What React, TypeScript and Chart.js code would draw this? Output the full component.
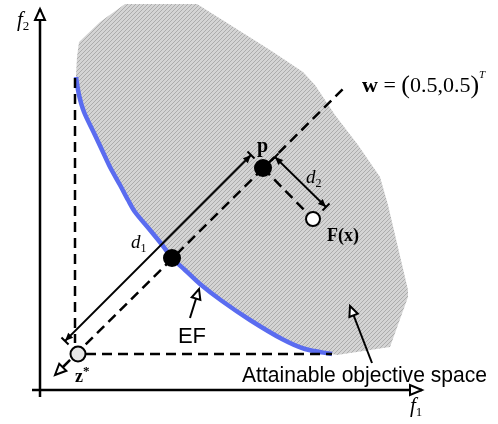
import { useEffect, useRef } from "react";
import { Chart, registerables } from "chart.js";

Chart.register(...registerables);

const W = 498;
const H = 424;

// Boundary of the attainable objective space (f1 to the right, f2 measured downward in picture units)
const regionF1 = [76, 77, 79, 100, 125, 197, 270, 303, 315, 335, 358, 380, 388, 408, 408, 390, 337, 332];
const regionF2 = [75, 57, 42, 22, 4, 4, 50, 72, 85, 115, 145, 177, 205, 290, 297, 347, 355, 354];

// Efficient front (EF)
const efF1 = [76, 79, 84, 94, 102, 110, 120, 128, 135, 150, 163, 172, 185, 200, 222, 250, 282, 305, 332];
const efF2 = [77, 95, 112, 133, 150, 167, 185, 200, 212, 230, 246, 258, 270, 284, 301, 320, 339, 349, 354];

// Points
const idealPoint = [78, 354]; // z*
const solutionPoint = [313, 219]; // F(x)
const projectedF1 = [172, 263]; // EF point, p
const projectedF2 = [258, 168];

// Axes
const f1Axis = [[32, 390], [422, 390]];
const f2Axis = [[40, 397], [40, 9]];

// Dashed construction lines
const dashedSegments = [
  [[75, 78], [75, 343]],
  [[86, 354], [332, 354]],
  [[63, 367], [345, 87]],
  [[263, 168], [313, 219]],
];

// Distance (dimension) lines
const d1Line = [[65, 341], [251, 155]];
const d2Line = [[275, 157], [326, 207]];

// Pointer arrows
const efPointer = [[190, 318], [199, 289]];
const spacePointer = [[372, 363], [350, 306]];
const wArrowTip = [[63, 367], [55, 375]];

const FONT_SERIF = "'Liberation Serif', 'DejaVu Serif', serif";
const FONT_SANS = "'Liberation Sans', Arial, sans-serif";

const toPts = (pairs: number[][]) => pairs.map(([x, y]) => ({ x, y }));

function makeHatch(ctx: CanvasRenderingContext2D): CanvasPattern | string {
  const c = document.createElement("canvas");
  c.width = 4;
  c.height = 4;
  const g = c.getContext("2d");
  if (!g) return "#c6c6c6";
  g.fillStyle = "#d4d4d4";
  g.fillRect(0, 0, 4, 4);
  g.strokeStyle = "#acacac";
  g.lineWidth = 1;
  g.beginPath();
  g.moveTo(-1, 5);
  g.lineTo(5, -1);
  g.moveTo(-1, 1);
  g.lineTo(1, -1);
  g.moveTo(3, 5);
  g.lineTo(5, 3);
  g.stroke();
  return ctx.createPattern(c, "repeat") || "#c6c6c6";
}

const overlayPlugin = {
  id: "overlay",
  afterDatasetsDraw(chart: any) {
    const ctx: CanvasRenderingContext2D = chart.ctx;
    const xs = chart.scales.x;
    const ys = chart.scales.y;
    const P = (p: number[]) => [xs.getPixelForValue(p[0]), ys.getPixelForValue(p[1])];

    const head = (fromV: number[], tipV: number[], len: number, half: number, hollow: boolean) => {
      const from = P(fromV);
      const tip = P(tipV);
      const dx = tip[0] - from[0];
      const dy = tip[1] - from[1];
      const d = Math.hypot(dx, dy) || 1;
      const ux = dx / d;
      const uy = dy / d;
      const bx = tip[0] - ux * len;
      const by = tip[1] - uy * len;
      ctx.beginPath();
      ctx.moveTo(tip[0], tip[1]);
      ctx.lineTo(bx - uy * half, by + ux * half);
      ctx.lineTo(bx + uy * half, by - ux * half);
      ctx.closePath();
      if (hollow) {
        ctx.fillStyle = "#fff";
        ctx.fill();
        ctx.lineWidth = 2;
        ctx.strokeStyle = "#000";
        ctx.lineJoin = "miter";
        ctx.stroke();
      } else {
        ctx.fillStyle = "#000";
        ctx.fill();
      }
    };

    const tick = (atV: number[], dirV: number[], half: number) => {
      const a = P(atV);
      const b = P(dirV);
      const dx = b[0] - a[0];
      const dy = b[1] - a[1];
      const d = Math.hypot(dx, dy) || 1;
      const nx = -dy / d;
      const ny = dx / d;
      ctx.beginPath();
      ctx.moveTo(a[0] - nx * half, a[1] - ny * half);
      ctx.lineTo(a[0] + nx * half, a[1] + ny * half);
      ctx.lineWidth = 2;
      ctx.strokeStyle = "#000";
      ctx.stroke();
    };

    ctx.save();
    head(f1Axis[0], f1Axis[1], 12, 5, true);
    head(f2Axis[0], f2Axis[1], 11, 5, true);
    head(efPointer[0], efPointer[1], 10, 4.5, true);
    head(spacePointer[0], spacePointer[1], 10, 4.5, true);
    head(wArrowTip[0], wArrowTip[1], 11, 5, true);
    for (const seg of [d1Line, d2Line]) {
      head(seg[0], seg[1], 8, 3.5, false);
      head(seg[1], seg[0], 8, 3.5, false);
      tick(seg[0], seg[1], 5);
      tick(seg[1], seg[0], 5);
    }

    const runs = (x0: number, y0: number, items: [string, string, number][]) => {
      const [x, y] = P([x0, y0]);
      let cx = x;
      ctx.textAlign = "left";
      ctx.textBaseline = "alphabetic";
      ctx.fillStyle = "#000";
      for (const [t, f, dy] of items) {
        ctx.font = f;
        ctx.fillText(t, cx, y + dy);
        cx += ctx.measureText(t).width;
      }
    };
    runs(17, 26, [["f", `italic 21px ${FONT_SERIF}`, 0], ["2", `13px ${FONT_SERIF}`, 4]]);
    runs(410, 412, [["f", `italic 21px ${FONT_SERIF}`, 0], ["1", `13px ${FONT_SERIF}`, 4]]);
    runs(362, 92, [
      ["w", `bold 22px ${FONT_SERIF}`, 0],
      [" = ", `22px ${FONT_SERIF}`, 0],
      ["(", `26px ${FONT_SERIF}`, 1],
      ["0.5,0.5", `22px ${FONT_SERIF}`, 0],
      [")", `26px ${FONT_SERIF}`, 1],
      ["T", `italic 11px ${FONT_SERIF}`, -14],
    ]);
    runs(257, 152, [["p", `bold 20px ${FONT_SERIF}`, 0]]);
    runs(306, 183, [["d", `italic 19px ${FONT_SERIF}`, 0], ["2", `12px ${FONT_SERIF}`, 4]]);
    runs(131, 248, [["d", `italic 19px ${FONT_SERIF}`, 0], ["1", `12px ${FONT_SERIF}`, 4]]);
    runs(327, 241, [["F(x)", `bold 18px ${FONT_SERIF}`, 0]]);
    runs(75, 382, [["z", `bold 18px ${FONT_SERIF}`, 0], ["*", `bold 13px ${FONT_SERIF}`, -7]]);

    const [ex, ey] = P([192, 343]);
    ctx.font = `22px ${FONT_SANS}`;
    ctx.textAlign = "center";
    ctx.fillText("EF", ex, ey);
    const [ax, ay] = P([242, 382]);
    ctx.textAlign = "left";
    ctx.fillText("Attainable objective space", ax, ay, 245);
    ctx.restore();
  },
};

export default function App() {
  const ref = useRef<HTMLCanvasElement | null>(null);

  useEffect(() => {
    const canvas = ref.current;
    if (!canvas) return;
    const ctx = canvas.getContext("2d");
    if (!ctx) return;
    const hatch = makeHatch(ctx);

    const regionPts = [
      ...regionF1.map((x, i) => ({ x, y: regionF2[i] })),
      ...efF1.map((x, i) => ({ x, y: efF2[i] })).reverse(),
    ];
    const efPts = efF1.map((x, i) => ({ x, y: efF2[i] }));

    const lineDs = (data: { x: number; y: number }[], extra: any, order: number) => ({
      type: "line" as const,
      data,
      showLine: true,
      pointRadius: 0,
      pointHoverRadius: 0,
      borderColor: "#000",
      borderWidth: 2,
      fill: false,
      tension: 0,
      order,
      ...extra,
    });

    const datasets: any[] = [
      lineDs(regionPts, { fill: "shape", backgroundColor: hatch, borderWidth: 0, borderColor: "rgba(0,0,0,0)" }, 20),
      lineDs(efPts, { borderColor: "#5a6cf0", borderWidth: 4.5, tension: 0.3, borderCapStyle: "butt" }, 15),
      ...dashedSegments.map((s) => lineDs(toPts(s), { borderDash: [10, 6], borderWidth: 2.5 }, 10)),
      lineDs(toPts(f1Axis), { borderWidth: 2.5 }, 10),
      lineDs(toPts(f2Axis), { borderWidth: 2.5 }, 10),
      lineDs(toPts(d1Line), { borderWidth: 1.8 }, 8),
      lineDs(toPts(d2Line), { borderWidth: 1.8 }, 8),
      lineDs(toPts(efPointer), { borderWidth: 2 }, 8),
      lineDs(toPts(spacePointer), { borderWidth: 2 }, 8),
      {
        type: "scatter",
        data: projectedF1.map((x, i) => ({ x, y: projectedF2[i] })),
        pointRadius: 9,
        backgroundColor: "#000",
        borderWidth: 0,
        order: 2,
      },
      {
        type: "scatter",
        data: [{ x: idealPoint[0], y: idealPoint[1] }],
        pointRadius: 7.5,
        backgroundColor: "#e6e6e6",
        borderColor: "#000",
        borderWidth: 2,
        order: 2,
      },
      {
        type: "scatter",
        data: [{ x: solutionPoint[0], y: solutionPoint[1] }],
        pointRadius: 7,
        backgroundColor: "#fff",
        borderColor: "#000",
        borderWidth: 2,
        order: 2,
      },
    ];

    const chart = new Chart(canvas, {
      type: "scatter",
      data: { datasets },
      options: {
        animation: false,
        responsive: false,
        maintainAspectRatio: false,
        events: [],
        layout: { padding: 0, autoPadding: false },
        plugins: { legend: { display: false }, tooltip: { enabled: false } },
        scales: {
          x: { type: "linear", min: 0, max: W, display: false },
          y: { type: "linear", min: 0, max: H, reverse: true, display: false },
        },
      },
      plugins: [overlayPlugin],
    } as any);

    return () => chart.destroy();
  }, []);

  return (
    <div style={{ position: "fixed", left: 0, top: 0, width: W, height: H, background: "#fff" }}>
      <canvas ref={ref} width={W} height={H} style={{ display: "block" }} />
    </div>
  );
}
